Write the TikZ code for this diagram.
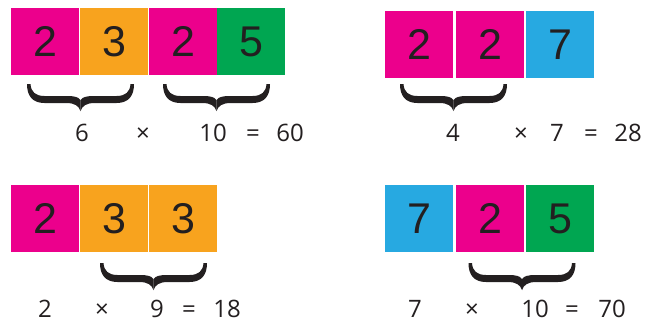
\documentclass[tikz,border=0pt]{standalone}
\usepackage{fontspec}
\setmainfont{Liberation Sans}
\newfontfamily\eqfont{Open Sans}
\usetikzlibrary{positioning}

\definecolor{tilepink}{HTML}{EC008C}
\definecolor{tileorange}{HTML}{F8A31E}
\definecolor{tilegreen}{HTML}{00A651}
\definecolor{tileblue}{HTML}{27A9E1}
\definecolor{inkgray}{HTML}{231F20}

\begin{document}
\begin{tikzpicture}[
    x=1pt, y=-1pt,
    node distance=1pt,
    tile/.style={minimum width=68pt, minimum height=67pt, inner sep=0pt, outer sep=0pt, font=\fontsize{43}{43}\selectfont, text=inkgray},
    eq/.style={anchor=base, inner sep=0pt, font=\eqfont\fontsize{24}{24}\selectfont, text=inkgray},
    grp/.pic={
        \foreach \s in {1,-1}
            \fill[inkgray, xscale=\s] (-53.5,0) .. controls (-53.5,12) and (-48,19) .. (-36,19)
                -- (-14,19) .. controls (-6,19) and (-1.5,22) .. (0,27) -- (0,16)
                .. controls (-2,13) and (-6,12) .. (-14,12) -- (-36,12)
                .. controls (-45,12) and (-49.5,8) .. (-50,0) -- cycle;
    }
]
    \useasboundingbox (0,0) rectangle (656,322);

    % Top left: 2 3 2 5
    \node[tile, fill=tilepink] (A1) at (45,41.5) {2};
    \node[tile, fill=tileorange, right=of A1] (A2) {3};
    \node[tile, fill=tilepink, right=of A2] (A3) {2};
    \node[tile, fill=tilegreen, right=0pt of A3] (A4) {5};
    \pic (ga1) at (80.5,84) {grp};
    \pic (ga2) at (216.5,84) {grp};
    \node[eq] (a6) at (82,141) {6};
    \node[eq] (ax) at (143,141) {×};
    \node[eq] (a10) at (213,141) {10};
    \node[eq] (aeq) at (253,141) {=};
    \node[eq] (a60) at (290,141) {60};

    % Top right: 2 2 7
    \node[tile, fill=tilepink] (B1) at (419,44.5) {2};
    \node[tile, fill=tilepink, right=3pt of B1] (B2) {2};
    \node[tile, fill=tileblue, right=2pt of B2] (B3) {7};
    \pic (gb1) at (453.5,84) {grp};
    \node[eq] (b4) at (453,141) {4};
    \node[eq] (bx) at (521,141) {×};
    \node[eq] (b7) at (557,141) {7};
    \node[eq] (beq) at (591,141) {=};
    \node[eq] (b28) at (628,141) {28};

    % Bottom left: 2 3 3
    \node[tile, fill=tilepink] (C1) at (45,218.5) {2};
    \node[tile, fill=tileorange, right=of C1] (C2) {3};
    \node[tile, fill=tileorange, right=of C2] (C3) {3};
    \pic (gc1) at (153.5,263) {grp};
    \node[eq] (c2) at (45,317) {2};
    \node[eq] (cx) at (102,317) {×};
    \node[eq] (c9) at (157,317) {9};
    \node[eq] (ceq) at (189,317) {=};
    \node[eq] (c18) at (227,317) {18};

    % Bottom right: 7 2 5
    \node[tile, fill=tileblue] (D1) at (419,218.5) {7};
    \node[tile, fill=tilepink, right=3pt of D1] (D2) {2};
    \node[tile, fill=tilegreen, right=2pt of D2] (D3) {5};
    \pic (gd1) at (522,263) {grp};
    \node[eq] (d7) at (415,317) {7};
    \node[eq] (dx) at (472,317) {×};
    \node[eq] (d10) at (535,317) {10};
    \node[eq] (deq) at (572,317) {=};
    \node[eq] (d70) at (612,317) {70};
\end{tikzpicture}
\end{document}
